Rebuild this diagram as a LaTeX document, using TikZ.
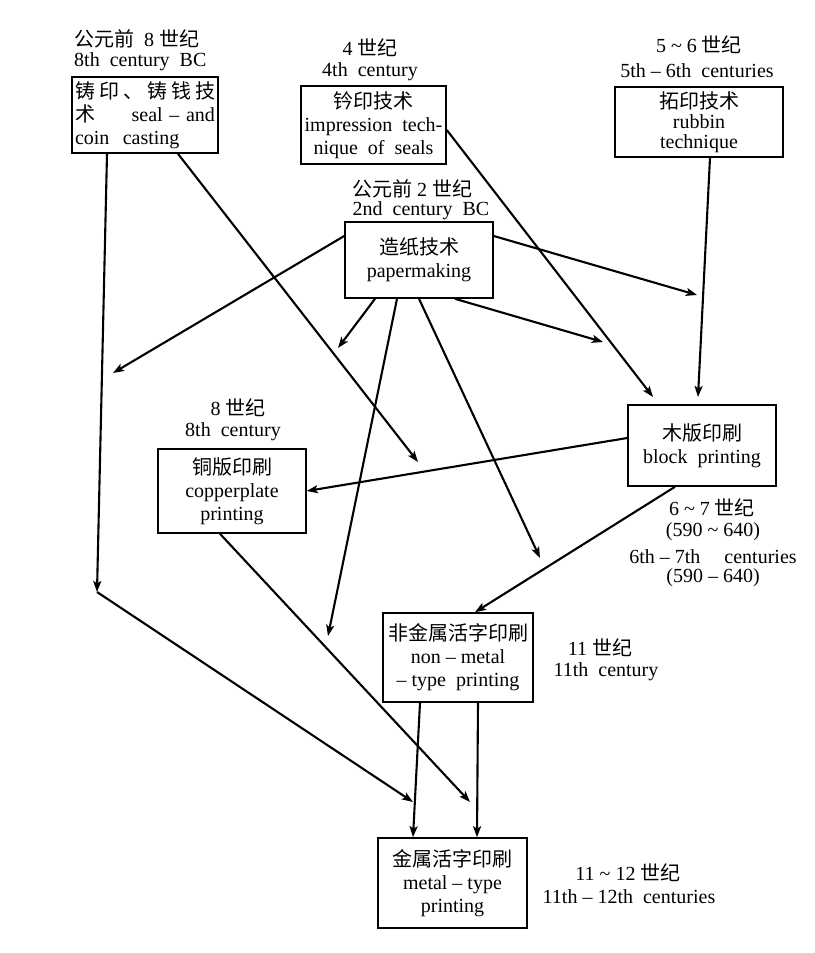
\documentclass[tikz,border=0pt]{standalone}
\usepackage{fontspec}
\setmainfont{Liberation Serif}
\newfontfamily\cjkfont{Noto Sans CJK SC}
\usetikzlibrary{arrows.meta}
\newcommand{\ZH}[1]{{\cjkfont #1}}
\begin{document}
\begin{tikzpicture}[x=1pt,y=-1pt,
  box/.style={draw, line width=1.6pt, inner sep=0pt, align=center, font=\fontsize{20}{23}\selectfont},
  lbl/.style={inner sep=0pt, align=center, font=\fontsize{20}{23}\selectfont},
  arr/.style={line width=2.1pt, -{Stealth[length=11pt,width=8pt,inset=2.5pt]}}]
\fill[white] (0,0) rectangle (814,953);
\useasboundingbox (0,0) rectangle (814,953);

% boxes
\node[box, text width=140pt, inner xsep=3pt, align=left, minimum height=76pt] (A) at (145,115)
  {\hbox to 140pt{\ZH{铸}\hfill\ZH{印}\hfill\ZH{、}\hfill\ZH{铸}\hfill\ZH{钱}\hfill\ZH{技}}\\ \ZH{术}\hfill seal – and\\ coin\ \ casting};
\node[box, minimum width=145pt, minimum height=78pt] (B) at (373.5,125)
  {\ZH{钤印技术}\\impression\ \ tech-\\nique\ \ of\ \ seals};
\node[box, minimum width=168pt, minimum height=70pt, font=\fontsize{20}{20}\selectfont] (C) at (699,122)
  {\ZH{拓印技术}\\rubbin\\technique};
\node[box, minimum width=148pt, minimum height=76pt] (D) at (419,260)
  {\ZH{造纸技术}\\papermaking};
\node[box, minimum width=148pt, minimum height=84pt] (E) at (232,491)
  {\ZH{铜版印刷}\\copperplate\\printing};
\node[box, minimum width=148pt, minimum height=81pt] (F) at (702,445.5)
  {\ZH{木版印刷}\\block\ \ printing};
\node[box, minimum width=150pt, minimum height=89pt] (G) at (458,657.5)
  {\ZH{非金属活字印刷}\\non – metal\\– type\ \ printing};
\node[box, minimum width=149pt, minimum height=90pt] (H) at (452.5,883)
  {\ZH{金属活字印刷}\\metal – type\\printing};

% labels
\node[lbl, anchor=west] (tA1) at (74,39) {\ZH{公元前}\ \ 8 \ZH{世纪}};
\node[lbl, anchor=west] (tA2) at (74,62) {8th\ \ century\ \ BC};
\node[lbl] (tB1) at (370,48) {4 \ZH{世纪}};
\node[lbl] (tB2) at (370,72) {4th\ \ century};
\node[lbl] (tC1) at (699,45) {5 \textasciitilde{} 6 \ZH{世纪}};
\node[lbl] (tC2) at (697,71) {5th – 6th\ \ centuries};
\node[lbl] (tD1) at (412,189) {\ZH{公元前} 2 \ZH{世纪}};
\node[lbl] (tD2) at (421,211) {2nd\ \ century\ \ BC};
\node[lbl] (tE1) at (238,408) {8 \ZH{世纪}};
\node[lbl] (tE2) at (233,432) {8th\ \ century};
\node[lbl] (tF1) at (712,508) {6 \textasciitilde{} 7 \ZH{世纪}};
\node[lbl] (tF2) at (713,532) {(590 \textasciitilde{} 640)};
\node[lbl] (tF3) at (713,557) {6th – 7th\hspace{24pt}centuries};
\node[lbl] (tF4) at (713,578) {(590 – 640)};
\node[lbl] (tG1) at (600,648) {11 \ZH{世纪}};
\node[lbl] (tG2) at (606,672) {11th\ \ century};
\node[lbl] (tH1) at (628,873) {11 \textasciitilde{} 12 \ZH{世纪}};
\node[lbl] (tH2) at (629,897) {11th – 12th\ \ centuries};

% free arrow ends
\coordinate (a1) at (97,592);
\coordinate (h1) at (413,802);
\coordinate (a2) at (418,462);
\coordinate (fB) at (653,397);
\coordinate (fC) at (698,397);
\coordinate (d1) at (113,373);
\coordinate (d2) at (697,295);
\coordinate (d3) at (338,348);
\coordinate (d4) at (328,636);
\coordinate (d5) at (540,558);
\coordinate (d6) at (603,342);
\coordinate (e1) at (470,802);

% connectors
\draw[arr] ([xshift=-38pt]A.south) -- (a1);
\draw[arr] (a1) -- (h1);
\draw[arr] ([xshift=33pt]A.south) -- (a2);
\draw[arr] ([yshift=-5pt]B.east) -- (fB);
\draw[arr] ([xshift=11pt]C.south) -- (fC);
\draw[arr] ([yshift=24pt]D.west) -- (d1);
\draw[arr] ([yshift=24pt]D.east) -- (d2);
\draw[arr] ([xshift=-44pt]D.south) -- (d3);
\draw[arr] ([xshift=-22pt]D.south) -- (d4);
\draw[arr] (D.south) -- (d5);
\draw[arr] ([xshift=36pt]D.south) -- (d6);
\draw[arr] ([yshift=7.5pt]F.west) -- (E.east);
\draw[arr] ([xshift=-27pt]F.south) -- ([xshift=17pt]G.north);
\draw[arr] ([xshift=-12pt]E.south) -- (e1);
\draw[arr] ([xshift=-38pt]G.south) -- ([xshift=-39.5pt]H.north);
\draw[arr] ([xshift=20pt]G.south) -- ([xshift=24.5pt]H.north);
\end{tikzpicture}
\end{document}
